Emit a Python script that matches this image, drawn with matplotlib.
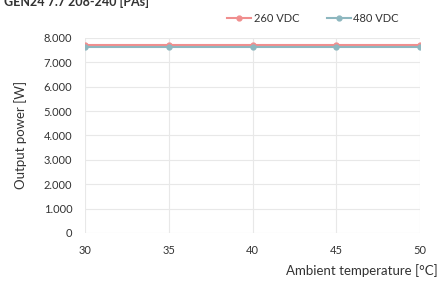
import numpy as np
import matplotlib.pyplot as plt
from matplotlib.ticker import FuncFormatter

plt.rcParams['font.family'] = ['Lato', 'DejaVu Sans']

temps = [30, 35, 40, 45, 50]
p_260 = [7700, 7700, 7700, 7700, 7700]
p_480 = [7630, 7630, 7630, 7630, 7630]
series_names = ['260 VDC', '480 VDC']
colors = ['#f08e8e', '#8db7bf']

fig = plt.figure(figsize=(4.4, 2.83), dpi=100)
ax = fig.add_axes([0.193, 0.177, 0.762, 0.689])

ax.plot(temps, p_260, color=colors[0], lw=1.5, marker='o', ms=3.5, label=series_names[0], zorder=3)
ax.plot(temps, p_480, color=colors[1], lw=1.5, marker='o', ms=3.5, label=series_names[1], zorder=3)

ax.set_xlim(30, 50)
ax.set_ylim(0, 8000)
ax.set_xticks(temps)
ax.set_yticks(np.arange(0, 8001, 1000))
ax.yaxis.set_major_formatter(FuncFormatter(lambda v, p: f'{int(v):,}'.replace(',', '.')))
ax.tick_params(length=0, labelsize=8, colors='#333333')
ax.tick_params(axis='x', pad=9)
ax.tick_params(axis='y', pad=9)
for s in ax.spines.values():
    s.set_visible(False)
ax.grid(True, color='#e8e8e8', lw=0.8)
ax.set_axisbelow(True)

ax.set_ylabel('Output power [W]', fontsize=9.5, color='#333333', labelpad=12)
fig.text(0.995, 0.02, 'Ambient temperature [°C]', fontsize=9.5, color='#333333', ha='right', va='bottom')
fig.text(0.01, 0.995, 'GEN24 7.7 208-240 [PAs]', fontsize=9, fontweight='bold', color='#333333', ha='left', va='center')

ax.legend(loc='lower center', bbox_to_anchor=(0.68, 1.02), ncol=2, frameon=False, fontsize=8,
          handlelength=2.2, handletextpad=0.2, columnspacing=2.5, labelcolor='#333333')

fig.savefig('out.png', dpi=100)
